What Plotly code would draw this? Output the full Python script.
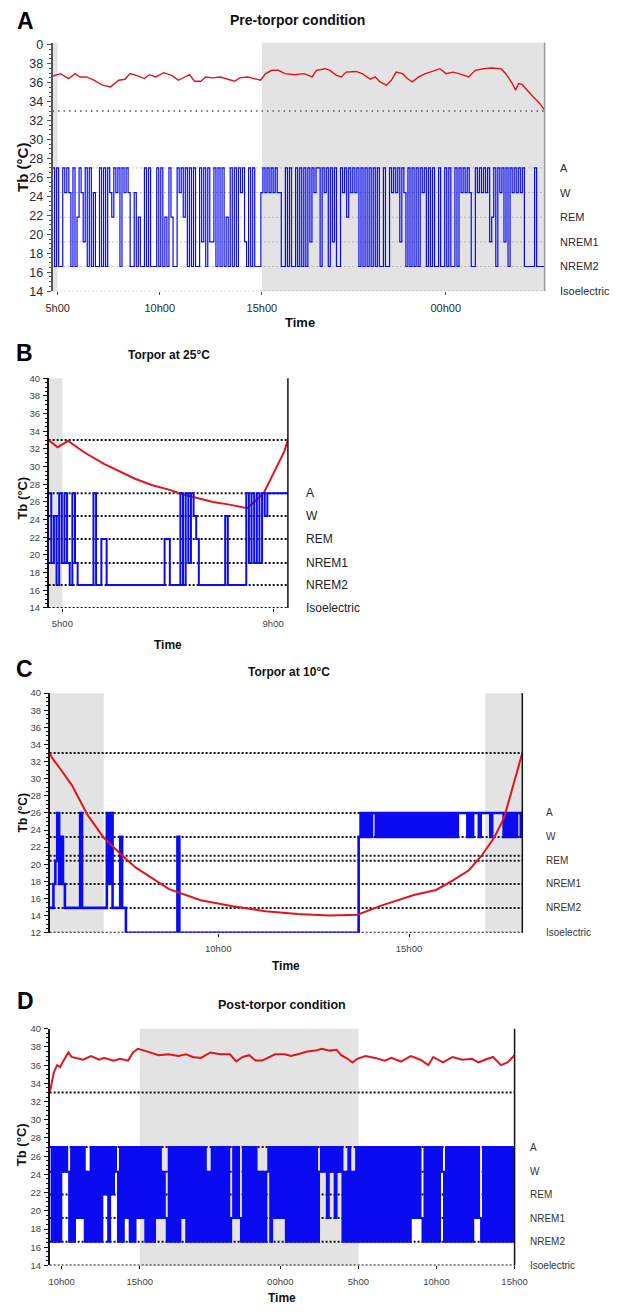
import plotly.graph_objects as go

W, H = 638, 1313

# ---------------- DATA ----------------
state_codes = ["A", "W", "R", "1", "2", "I"]
state_names = ["A", "W", "REM", "NREM1", "NREM2", "Isoelectric"]

# ---- Panel A : pre-torpor ----
A_levels = [27.0, 24.4, 21.8, 19.2, 16.6, 14.0]
A_hyp_start = 4.75
A_hyp_step = 0.1
A_hyp = ("A2A22AWAW2" "A2RAW1A2A2" "W22A2A2AWR" "AWA2AWAW22" "W2R22A2A22"
         "2A2A2R2AR2" "2AWARA2A2A" "22A1A2A11A" "2A2A2R2A2A" "2AWA12A2A2"
         "22WAWAWAWA" "WW22A2A22A" "2A2A2A1AWA" "A2AWA2A1A2" "2AWARAWAWA"
         "2A2A2A2A2A" "22A22AWAWA" "1AW2A2A2A2" "AWA2A2A22A" "22A2A22A2A"
         "WAWAW22AWA" "WAWA1RA2AW" "A1A2AWAWAW" "A22222A222" "2")
A_tb_hours = [4.78, 5.14, 5.54, 5.85, 6.09, 6.41, 6.80, 7.19, 7.59, 7.99,
              8.30, 8.54, 8.85, 9.25, 9.49, 9.80, 10.20, 10.59, 10.91, 11.22,
              11.46, 11.70, 12.01, 12.25, 12.57, 12.96, 13.28, 13.67, 13.91, 14.30,
              14.62, 14.94, 15.18, 15.49, 15.81, 16.12, 16.60, 17.07, 17.46, 17.67,
              18.10, 18.33, 18.65, 18.89, 19.12, 19.60, 19.91, 20.31, 20.55, 20.78,
              21.10, 21.34, 21.57, 21.89, 22.12, 22.36, 22.68, 23.00, 23.23, 23.71,
              24.02, 24.34, 24.65, 25.13, 25.44, 25.84, 26.23, 26.47, 26.71, 26.94,
              27.26, 27.42, 27.57, 27.73, 27.97, 28.28, 28.60, 28.84]
A_tb_temp = [36.69, 36.94, 36.42, 36.94, 36.59, 36.59, 36.24, 35.72, 35.54, 36.24,
             36.35, 36.94, 36.76, 36.42, 36.83, 36.59, 37.04, 36.76, 36.24, 36.59,
             36.83, 36.14, 36.14, 36.59, 36.49, 36.59, 36.42, 36.14, 36.49, 36.59,
             36.42, 36.24, 36.94, 37.29, 37.29, 36.94, 36.83, 36.94, 36.59, 37.29,
             37.46, 37.29, 36.76, 36.59, 37.10, 37.17, 36.94, 36.35, 36.59, 36.07,
             35.72, 36.24, 37.10, 36.94, 36.42, 36.07, 36.59, 36.94, 37.10, 37.46,
             36.94, 37.10, 36.94, 36.59, 37.29, 37.46, 37.53, 37.46, 37.46, 36.94,
             35.90, 35.20, 35.90, 35.80, 35.20, 34.50, 33.80, 33.10]
A_dark_start = [4.75, 15.0]
A_dark_end = [5.0, 28.84]
A_xticks = [5, 10, 15, 24]
A_xticklabels = ["5h00", "10h00", "15h00", "00h00"]
A_yticks = [14, 16, 18, 20, 22, 24, 26, 28, 30, 32, 34, 36, 38, 40]
A_yticklabels = ["14", "16", "18", "20", "22", "24", "26", "28", "30", "32", "34", "36", "38", "0"]

# ---- Panel B : torpor at 25 C ----
B_levels = [27.0, 24.4, 21.8, 19.1, 16.6, 14.0]
B_hyp_start = 4.74
B_hyp_step = 0.05
B_hyp = ("A1W2A1A12A" "1222222A22" "RR22222222" "2222222222" "2222RR2222"
         "A2A1AWR222" "2222222W22" "22222A1A1A" "1AWAAAAAAA" "A")
B_tb_hours = [4.74, 4.91, 5.11, 5.42, 5.79, 6.16, 6.39, 6.71, 7.02, 7.26,
              7.53, 7.86, 8.17, 8.51, 8.82, 9.03, 9.21, 9.28]
B_tb_temp = [33.0, 32.2, 32.9, 31.6, 30.3, 29.2, 28.6, 27.9, 27.4, 26.9,
             26.5, 26.0, 25.7, 25.3, 27.0, 29.5, 31.7, 33.0]
B_dark_start = [4.74]
B_dark_end = [5.0]
B_xticks = [5, 9]
B_xticklabels = ["5h00", "9h00"]
B_yticks = [14, 16, 18, 20, 22, 24, 26, 28, 30, 32, 34, 36, 38, 40]

# ---- Panel C : torpor at 10 C ----
C_levels = [26.0, 23.2, 20.4, 17.7, 14.9, 12.0]
C_extra_line = 21.0
C_hyp_start = 5.58
C_hyp_step = 0.05
C_hyp = ("221RA1W122" "222222A222" "2222222222" "A1A2222W22" "IIIIIIIIII"
         "IIIIIIIIII" "IIIIIIIWII" "IIIIIIIIII" "IIIIIIIIII" "IIIIIIIIII"
         "IIIIIIIIII" "IIIIIIIIII" "IIIIIIIIII" "IIIIIIIIII" "IIIIIIIIII"
         "IIIIIIIIII" "IIWAWAWAWA" "AWAWAWAWAW" "AWAWAWAWAW" "AWAWAWAWAW"
         "AWAWAWAWAW" "AWAWAAAAAW" "AWAAAWAAAA" "AWAAAAAAWA" "WAWAWAAW")
C_tb_hours = [5.58, 5.65, 5.90, 6.17, 6.57, 7.00, 7.44, 7.84, 8.71, 9.54,
              10.38, 11.24, 12.08, 12.92, 13.65, 14.29, 15.13, 15.71, 16.14, 16.57,
              16.90, 17.23, 17.49, 17.74, 17.97]
C_tb_temp = [33.0, 32.4, 30.9, 29.2, 25.8, 23.1, 21.2, 19.6, 17.1, 15.8,
             15.1, 14.5, 14.2, 14.0, 14.1, 15.2, 16.4, 17.0, 18.1, 19.3,
             21.0, 23.1, 25.4, 29.2, 33.0]
C_dark_start = [5.58, 17.0]
C_dark_end = [7.0, 17.97]
C_xticks = [10, 15]
C_xticklabels = ["10h00", "15h00"]
C_yticks = [12, 14, 16, 18, 20, 22, 24, 26, 28, 30, 32, 34, 36, 38, 40]

# ---- Panel D : post-torpor ----
D_levels = [27.0, 24.3, 21.8, 19.2, 16.6, 14.0]
D_hyp_start = 9.23
D_hyp_step = 0.125
D_hyp = ("A2A2A2A" "WAW" "2A2" "A1A1A" "2" "W2" "A2A2A2" "ARA2A" "RAW"
         "2A2A1A2A2A" "1A1" "A2A2A2A" "1A1W1" "2A2A2A2" "A1A"
         "2A2A2A2A2A2W2A2A2A2A2A2" "1A1A1" "2A2A2A2A2" "W2W2W" "A2A" "1A1A1"
         "A2A2A2A2A2A2A2A2A2" "WAWA1AWA1AWA" "2W2A2W2A2" "A2A2A2A2A2A2A2A2A"
         "2A2A2" "A2" "A2" "A1A1A1" "2A2A2A2A2A" "W2A2A2A2A2" "A2A2A2A1A1"
         "2A2A2" "A2A2A2A2A2A2A2")
D_tb_hours = [9.25, 9.36, 9.50, 9.71, 9.91, 10.12, 10.43, 10.64, 10.95, 11.36,
              11.88, 12.40, 12.71, 13.33, 13.74, 14.26, 14.57, 14.88, 15.29, 15.70,
              16.22, 16.84, 17.46, 17.98, 18.39, 18.91, 19.53, 20.15, 20.77, 21.18,
              21.59, 22.01, 22.42, 22.83, 23.25, 23.66, 24.28, 24.69, 25.11, 25.73,
              26.24, 26.66, 27.17, 27.59, 27.90, 28.31, 28.62, 28.93, 29.45, 30.07,
              30.69, 31.11, 31.73, 32.35, 32.97, 33.48, 33.79, 34.41, 35.03, 35.65,
              36.27, 36.69, 37.10, 37.62, 38.13, 38.55, 39.00]
D_tb_temp = [33.1, 34.2, 35.2, 36.0, 35.8, 36.5, 37.4, 36.9, 36.8, 36.6,
             37.0, 36.6, 36.8, 36.5, 36.7, 36.5, 37.4, 37.8, 37.6, 37.4,
             37.1, 37.2, 37.0, 37.2, 36.9, 36.8, 37.4, 37.2, 37.2, 36.4,
             36.9, 37.1, 36.5, 36.5, 36.9, 37.2, 37.2, 37.0, 37.2, 37.5,
             37.6, 37.8, 37.6, 37.7, 37.1, 36.7, 36.3, 36.7, 37.0, 36.8,
             36.5, 36.8, 36.4, 37.0, 36.6, 36.0, 36.9, 36.3, 36.9, 36.6,
             36.7, 36.3, 36.6, 36.9, 36.0, 36.3, 37.1]
D_dark_start = [15.0]
D_dark_end = [29.0]
D_xticks = [10, 15, 24, 29, 34, 39]
D_xticklabels = ["10h00", "15h00", "00h00", "5h00", "10h00", "15h00"]
D_yticks = [14, 16, 18, 20, 22, 24, 26, 28, 30, 32, 34, 36, 38, 40]

REF_TEMP = 33.0

# ---------------- STYLE / LAYOUT ----------------
BLUE = "#0b0bf2"
RED = "#e2141c"
GRAY = "#e3e3e3"
FONT = "Liberation Sans, Arial, sans-serif"


def fx(p):
    return p / W


def fy(p):
    return 1 - p / H


def hyp_xy(codes, start, step, levels):
    lv = dict(zip(state_codes, levels))
    xs = [start + i * step for i in range(len(codes) + 1)]
    ys = [lv[c] for c in codes] + [lv[codes[-1]]]
    return xs, ys


panels = [
    dict(levels=A_levels, hyp=A_hyp, hs=A_hyp_start, hstep=A_hyp_step,
         tbh=A_tb_hours, tbt=A_tb_temp, ds=A_dark_start, de=A_dark_end,
         xt=A_xticks, xtl=A_xticklabels, yt=A_yticks, ytl=A_yticklabels,
         xpx=(47, 555), ypx=(37.1, 288), xr=[4.75, 28.84], yr=[14, 40.2],
         blue_w=1.2, red_w=1.4, blue_top=False, extra=None,
         lvl_line=dict(color="#8c8c8c", width=1, dash="1px,3px"),
         ref_line=dict(color="#555555", width=1.4, dash="1.5px,4px"),
         axis_col="#555555", border_col="#9a9a9a", tick_font=12.5, xtick_font=11,
         tick_col="#2a2a2a", lab_x=569, lab_font=11, lab_col="#2a2a2a",
         letter="A", letter_pos=(19, 15),
         title="Pre-torpor condition", title_pos=(300, 14), title_size=14,
         time_pos=(302, 320), time_size=13, tb_pos=(16, 163), tb_size=15),
    dict(levels=B_levels, hyp=B_hyp, hs=B_hyp_start, hstep=B_hyp_step,
         tbh=B_tb_hours, tbt=B_tb_temp, ds=B_dark_start, de=B_dark_end,
         xt=B_xticks, xtl=B_xticklabels, yt=B_yticks, ytl=[str(v) for v in B_yticks],
         xpx=(43, 290), ypx=(376, 608), xr=[4.74, 9.28], yr=[14, 40],
         blue_w=2, red_w=2, blue_top=True, extra=None,
         lvl_line=dict(color="#111111", width=2, dash="2px,2px"),
         ref_line=dict(color="#111111", width=2, dash="2px,2px"),
         axis_col="#111111", border_col="#111111", tick_font=9.5, xtick_font=9.5,
         tick_col="#444444", lab_x=307, lab_font=12, lab_col="#222222",
         letter="B", letter_pos=(18, 350),
         title="Torpor at 25°C", title_pos=(167, 352), title_size=12,
         time_pos=(166, 645), time_size=12, tb_pos=(16, 497), tb_size=13),
    dict(levels=C_levels, hyp=C_hyp, hs=C_hyp_start, hstep=C_hyp_step,
         tbh=C_tb_hours, tbt=C_tb_temp, ds=C_dark_start, de=C_dark_end,
         xt=C_xticks, xtl=C_xticklabels, yt=C_yticks, ytl=[str(v) for v in C_yticks],
         xpx=(44, 532), ypx=(694, 936), xr=[5.58, 17.97], yr=[12, 40],
         blue_w=2.6, red_w=2, blue_top=False, extra=C_extra_line,
         lvl_line=dict(color="#111111", width=2, dash="2px,2px"),
         ref_line=dict(color="#111111", width=2, dash="2px,2px"),
         axis_col="#111111", border_col="#111111", tick_font=9.5, xtick_font=9.5,
         tick_col="#444444", lab_x=554, lab_font=10, lab_col="#333333",
         letter="C", letter_pos=(18, 670),
         title="Torpor at 10°C", title_pos=(291, 673), title_size=12,
         time_pos=(288, 970), time_size=12, tb_pos=(16, 815), tb_size=12),
    dict(levels=D_levels, hyp=D_hyp, hs=D_hyp_start, hstep=D_hyp_step,
         tbh=D_tb_hours, tbt=D_tb_temp, ds=D_dark_start, de=D_dark_end,
         xt=D_xticks, xtl=D_xticklabels, yt=D_yticks, ytl=[str(v) for v in D_yticks],
         xpx=(44, 524), ypx=(1033, 1272), xr=[9.23, 39.0], yr=[14, 40],
         blue_w=2, red_w=2, blue_top=False, extra=None,
         lvl_line=dict(color="#111111", width=2, dash="2px,2px"),
         ref_line=dict(color="#111111", width=2, dash="2px,2px"),
         axis_col="#111111", border_col="#111111", tick_font=9.5, xtick_font=9.5,
         tick_col="#444444", lab_x=538, lab_font=10, lab_col="#333333",
         letter="D", letter_pos=(19, 1005),
         title="Post-torpor condition", title_pos=(284, 1009), title_size=12.5,
         time_pos=(284, 1305), time_size=12, tb_pos=(15, 1150), tb_size=13),
]

fig = go.Figure()
shapes = []
annotations = []
layout_axes = {}

for k, P in enumerate(panels, start=1):
    xa = "x" if k == 1 else f"x{k}"
    ya = "y" if k == 1 else f"y{k}"
    xname = "xaxis" if k == 1 else f"xaxis{k}"
    yname = "yaxis" if k == 1 else f"yaxis{k}"

    # dark-phase bands
    for s, e in zip(P["ds"], P["de"]):
        shapes.append(dict(type="rect", xref=xa, yref=f"{ya} domain", x0=s, x1=e,
                           y0=0, y1=1, fillcolor=GRAY, line=dict(width=0), layer="below"))
    # dotted level lines
    lines = list(P["levels"])
    if P["extra"] is not None:
        lines.append(P["extra"])
    for v in lines:
        shapes.append(dict(type="line", xref=f"{xa} domain", x0=0, x1=1, yref=ya,
                           y0=v, y1=v, line=P["lvl_line"], layer="below"))
    shapes.append(dict(type="line", xref=f"{xa} domain", x0=0, x1=1, yref=ya,
                       y0=REF_TEMP, y1=REF_TEMP, line=P["ref_line"], layer="below"))
    # right border
    shapes.append(dict(type="line", xref=f"{xa} domain", x0=1, x1=1,
                       yref=f"{ya} domain", y0=0, y1=1,
                       line=dict(color=P["border_col"], width=1.5), layer="above"))

    hx, hy = hyp_xy(P["hyp"], P["hs"], P["hstep"], P["levels"])
    blue = go.Scatter(x=hx, y=hy, mode="lines", xaxis=xa, yaxis=ya,
                      line=dict(shape="hv", color=BLUE, width=P["blue_w"]),
                      hoverinfo="skip", showlegend=False)
    red = go.Scatter(x=P["tbh"], y=P["tbt"], mode="lines", xaxis=xa, yaxis=ya,
                     line=dict(color=RED, width=P["red_w"]),
                     hoverinfo="skip", showlegend=False)
    if P["blue_top"]:
        fig.add_trace(red)
        fig.add_trace(blue)
    else:
        fig.add_trace(blue)
        fig.add_trace(red)

    layout_axes[xname] = dict(
        domain=[fx(P["xpx"][0]), fx(P["xpx"][1])], range=P["xr"], anchor=ya,
        showline=False, showgrid=False, zeroline=False,
        tickvals=P["xt"], ticktext=P["xtl"], ticks="outside", ticklen=3,
        tickcolor=P["axis_col"], ticklabelstandoff=4,
        tickfont=dict(size=P["xtick_font"], color=P["tick_col"], family=FONT))
    layout_axes[yname] = dict(
        domain=[fy(P["ypx"][1]), fy(P["ypx"][0])], range=P["yr"], anchor=xa,
        showline=True, linecolor=P["axis_col"], linewidth=1.5,
        showgrid=False, zeroline=False,
        tickvals=P["yt"], ticktext=P["ytl"], ticks="outside", ticklen=4,
        tickcolor=P["axis_col"], ticklabelstandoff=1,
        minor=dict(ticks="outside", ticklen=2, dtick=0.5, tickcolor=P["axis_col"]),
        tickfont=dict(size=P["tick_font"], color=P["tick_col"], family=FONT))

    # right-hand state labels
    for name, v in zip(state_names, P["levels"]):
        annotations.append(dict(text=name, xref="paper", yref=ya, x=fx(P["lab_x"]), y=v,
                                xanchor="left", yanchor="middle", showarrow=False,
                                font=dict(size=P["lab_font"], color=P["lab_col"], family=FONT)))
    # panel letter
    annotations.append(dict(text=f"<b>{P['letter']}</b>", xref="paper", yref="paper",
                            x=fx(P["letter_pos"][0]), y=fy(P["letter_pos"][1]),
                            xanchor="center", yanchor="middle", showarrow=False,
                            font=dict(size=23, color="black", family=FONT)))
    # title
    annotations.append(dict(text=f"<b>{P['title']}</b>", xref="paper", yref="paper",
                            x=fx(P["title_pos"][0]), y=fy(P["title_pos"][1]),
                            xanchor="center", yanchor="middle", showarrow=False,
                            font=dict(size=P["title_size"], color="#111111", family=FONT)))
    # x title
    annotations.append(dict(text="<b>Time</b>", xref="paper", yref="paper",
                            x=fx(P["time_pos"][0]), y=fy(P["time_pos"][1]),
                            xanchor="center", yanchor="middle", showarrow=False,
                            font=dict(size=P["time_size"], color="#111111", family=FONT)))
    # y title
    annotations.append(dict(text="<b>Tb (°C)</b>", xref="paper", yref="paper",
                            x=fx(P["tb_pos"][0]), y=fy(P["tb_pos"][1]), textangle=-90,
                            xanchor="center", yanchor="middle", showarrow=False,
                            font=dict(size=P["tb_size"], color="#111111", family=FONT)))

fig.update_layout(
    width=W, height=H, margin=dict(l=0, r=0, t=0, b=0),
    paper_bgcolor="white", plot_bgcolor="white",
    showlegend=False, shapes=shapes, annotations=annotations,
    font=dict(family=FONT),
    **layout_axes,
)

fig.write_html("out.html", config={"displayModeBar": False},
               post_script="document.body.style.margin='0px';")
